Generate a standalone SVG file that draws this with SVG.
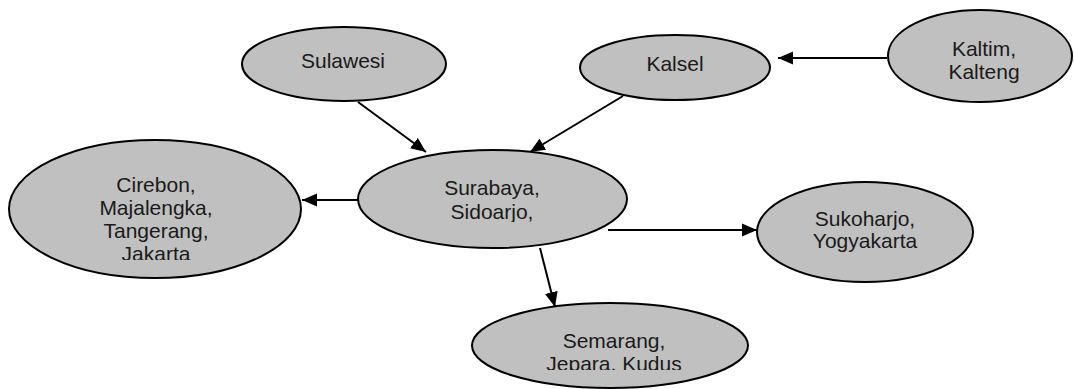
<svg xmlns="http://www.w3.org/2000/svg" width="1074" height="389" viewBox="0 0 1074 389">
<style>
.node ellipse{fill:#c0c0c0;stroke:#000;stroke-width:2}
.node text{font-family:"Liberation Sans",Arial,sans-serif;font-size:21px;fill:#1a1a1a;text-anchor:middle}
.edge{stroke:#000;stroke-width:2;fill:none;marker-end:url(#arr)}
</style>
<defs>
<marker id="arr" markerUnits="userSpaceOnUse" markerWidth="16" markerHeight="14" refX="15" refY="7" orient="auto">
<path d="M0,0.5 L15,7 L0,13.5 z" fill="#000"/>
</marker>
<clipPath id="cKaltim"><rect x="880" y="30" width="194" height="53"/></clipPath>
<clipPath id="cSura"><rect x="360" y="160" width="265" height="62"/></clipPath>
<clipPath id="cCir"><rect x="10" y="160" width="290" height="100"/></clipPath>
<clipPath id="cSem"><rect x="475" y="310" width="270" height="60"/></clipPath>
</defs>
<rect width="1074" height="389" fill="#fff"/>
<g id="connectors">
<line class="edge" x1="358" y1="102" x2="426" y2="152"/>
<line class="edge" x1="623" y1="96" x2="530" y2="152"/>
<line class="edge" x1="887" y1="58" x2="778" y2="58"/>
<line class="edge" x1="358" y1="200" x2="302" y2="200"/>
<line class="edge" x1="608" y1="230" x2="757" y2="230"/>
<line class="edge" x1="540" y1="248" x2="555" y2="307"/>
</g>
<g id="sulawesi" class="node">
<ellipse cx="344" cy="64" rx="102" ry="37"/>
<text x="343" y="68">Sulawesi</text>
</g>
<g id="kalsel" class="node">
<ellipse cx="675" cy="67.5" rx="95" ry="32.5"/>
<text x="675" y="71">Kalsel</text>
</g>
<g id="kaltim" class="node">
<ellipse cx="980" cy="56" rx="92" ry="46"/>
<text clip-path="url(#cKaltim)"><tspan x="984" y="56">Kaltim,</tspan><tspan x="984" y="79">Kalteng</tspan></text>
</g>
<g id="surabaya" class="node">
<ellipse cx="492.5" cy="199" rx="134.5" ry="49"/>
<text clip-path="url(#cSura)"><tspan x="492" y="195">Surabaya,</tspan><tspan x="492" y="219">Sidoarjo,</tspan><tspan x="492" y="242">Gresik</tspan></text>
</g>
<g id="cirebon" class="node">
<ellipse cx="155" cy="209" rx="146" ry="69"/>
<text clip-path="url(#cCir)"><tspan x="156" y="192">Cirebon,</tspan><tspan x="156" y="215">Majalengka,</tspan><tspan x="156" y="238">Tangerang,</tspan><tspan x="156" y="261">Jakarta</tspan></text>
</g>
<g id="sukoharjo" class="node">
<ellipse cx="865" cy="232" rx="108" ry="50"/>
<text><tspan x="865" y="226">Sukoharjo,</tspan><tspan x="865" y="248">Yogyakarta</tspan></text>
</g>
<g id="semarang" class="node">
<ellipse cx="610" cy="345.5" rx="138" ry="42.5"/>
<text clip-path="url(#cSem)"><tspan x="614" y="348">Semarang,</tspan><tspan x="614" y="371">Jepara, Kudus</tspan></text>
</g>
</svg>
